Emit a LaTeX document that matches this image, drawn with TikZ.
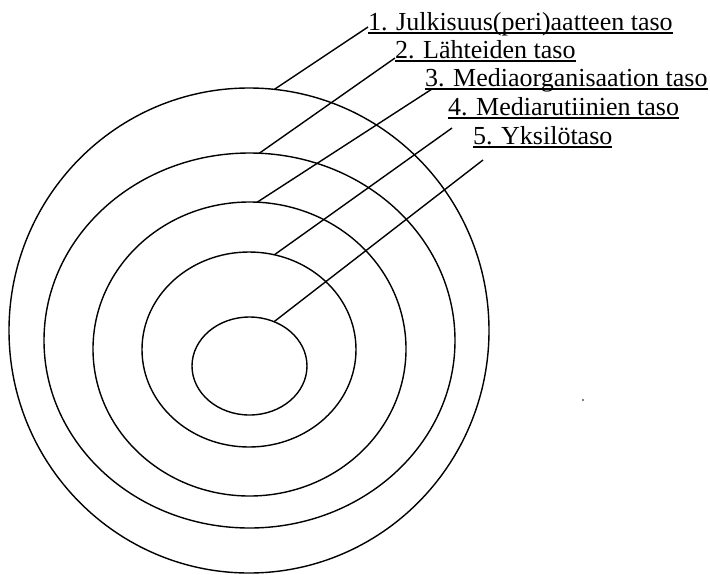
\documentclass[tikz,border=0pt]{standalone}
\usepackage{fontspec}
\setmainfont{Liberation Serif}
\usetikzlibrary{shapes.geometric}
\begin{document}
\begin{tikzpicture}[x=1pt,y=-1pt,
  ring/.style={draw, ellipse, line width=1.4pt, inner sep=0pt, outer sep=0pt},
  lab/.style={anchor=base west, inner sep=0pt, outer sep=0pt, font=\fontsize{26}{30}\selectfont},
  ul/.style={line width=1.3pt},
  conn/.style={line width=1.4pt}]
\useasboundingbox (0,0) rectangle (710,574);
% rings
\node[ring, minimum width=480pt, minimum height=485pt] (e1) at (249,330.5) {};
\node[ring, minimum width=411pt, minimum height=375pt] (e2) at (249.5,340.5) {};
\node[ring, minimum width=313pt, minimum height=294pt] (e3) at (249.5,349) {};
\node[ring, minimum width=214pt, minimum height=195pt] (e4) at (249,349.5) {};
\node[ring, minimum width=115pt, minimum height=98pt] (e5) at (249.5,366) {};
% labels
\node[lab] (t1) at (368,30) {1. Julkisuus(peri)aatteen taso};
\node[lab] (t2) at (395,58) {2. Lähteiden taso};
\node[lab] (t3) at (425,86) {3. Mediaorganisaation taso};
\node[lab] (t4) at (448,115) {4. Mediarutiinien taso};
\node[lab] (t5) at (473,144) {5. Yksilötaso};
\foreach \t in {t1,t2,t3,t4,t5}
  \draw[ul] ([yshift=-3pt]\t.base west) -- ([yshift=-3pt]\t.base east);
% connector ends
\coordinate (c1) at (368,27);
\coordinate (c2) at (395,58);
\coordinate (c3) at (432,89);
\coordinate (c4) at (452,128);
\coordinate (c5) at (483,160);
\draw[conn] (e1.84.3) -- (c1);
\draw[conn] (e2.87.7) -- (c2);
\draw[conn] (e3.87.45) -- (c3);
\draw[conn] (e4.75.3) -- (c4);
\draw[conn] (e5.61.3) -- (c5);
% speck
\node[circle, fill, inner sep=0pt, minimum size=1.8pt] (dot) at (583,400) {};
\end{tikzpicture}
\end{document}
